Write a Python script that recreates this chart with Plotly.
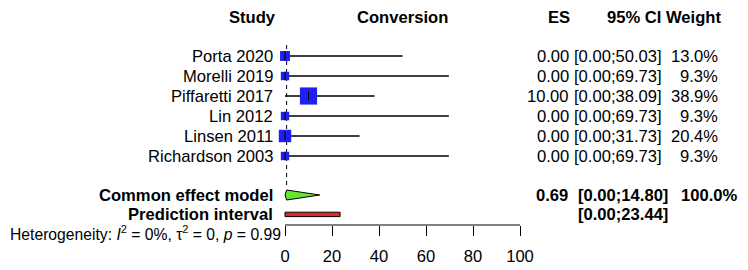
import plotly.graph_objects as go

# ---------------- data ----------------
studies = ["Porta 2020", "Morelli 2019", "Piffaretti 2017", "Lin 2012", "Linsen 2011", "Richardson 2003"]
es = [0.0, 0.0, 10.0, 0.0, 0.0, 0.0]
ci_low = [0.0, 0.0, 0.0, 0.0, 0.0, 0.0]
ci_high = [50.03, 69.73, 38.09, 69.73, 31.73, 69.73]
weights = [13.0, 9.3, 38.9, 9.3, 20.4, 9.3]

common_es = 0.69
common_low = 0.00
common_high = 14.80
common_weight = 100.0
pred_low = 0.00
pred_high = 23.44
het_I2 = 0
het_tau2 = 0
het_p = 0.99

tick_vals = [0, 20, 40, 60, 80, 100]

# ---------------- layout constants ----------------
W, H = 748, 270
FONT = "Liberation Sans, Arial, sans-serif"
FS = 16.6
PX0, PXPER = 285.0, 2.35          # pixel of x=0 and px per unit
ROW0, ROWPX = 36.0, 20.0          # pixel y = ROW0 + ROWPX*row
AXIS_PX = 225.0

xr = [(0 - PX0) / PXPER, (W - PX0) / PXPER]
yr = [(H - ROW0) / ROWPX, (0 - ROW0) / ROWPX]

def px(x):
    return x / W

def py(y):
    return 1 - y / H

rows = list(range(1, len(studies) + 1))
row_common = 7.95
row_pred = 8.92

fig = go.Figure()

# dashed line at common effect estimate
fig.add_trace(go.Scatter(x=[common_es, common_es], y=[0.45, 7.55], mode="lines",
                         line=dict(color="black", width=1, dash="4px,4px"),
                         hoverinfo="skip", showlegend=False))

# CI lines
cx, cy = [], []
for lo, hi, r in zip(ci_low, ci_high, rows):
    cx += [lo, hi, None]
    cy += [r, r, None]
fig.add_trace(go.Scatter(x=cx, y=cy, mode="lines", line=dict(color="black", width=1.3),
                         hoverinfo="skip", showlegend=False))

# squares
fig.add_trace(go.Scatter(x=es, y=rows, mode="markers",
                         marker=dict(symbol="square", color="#1F1FF5", opacity=1,
                                     size=[2.75 * w ** 0.5 for w in weights],
                                     line=dict(width=0)),
                         opacity=1, hoverinfo="skip", showlegend=False))

# estimate ticks
fig.add_trace(go.Scatter(x=es, y=rows, mode="markers",
                         marker=dict(symbol="line-ns", size=6, opacity=1,
                                     line=dict(color="black", width=1.1)),
                         hoverinfo="skip", showlegend=False))

# diamond
h = 0.25
fig.add_trace(go.Scatter(x=[common_low, common_es, common_high, common_es, common_low],
                         y=[row_common, row_common - h, row_common, row_common + h, row_common],
                         mode="lines", fill="toself", fillcolor="#66E633",
                         line=dict(color="black", width=1),
                         hoverinfo="skip", showlegend=False))

# prediction interval
hb = 0.11
fig.add_trace(go.Scatter(x=[pred_low, pred_high, pred_high, pred_low, pred_low],
                         y=[row_pred - hb, row_pred - hb, row_pred + hb, row_pred + hb, row_pred - hb],
                         mode="lines", fill="toself", fillcolor="#E8262A",
                         line=dict(color="black", width=1),
                         hoverinfo="skip", showlegend=False))

ann = []

def add(text, x, y, xanchor="right", bold=False, yref="y", size=FS):
    if bold:
        text = "<b>" + text + "</b>"
    ann.append(dict(text=text, x=px(x), xref="paper", y=y, yref=yref,
                    xanchor=xanchor, yanchor="middle", showarrow=False,
                    borderpad=0, borderwidth=0,
                    font=dict(family=FONT, size=size, color="black")))

# headers
hy = py(17)
add("Study", 276, hy, bold=True, yref="paper")
add("Conversion", (PX0 + PX0 + 100 * PXPER) / 2, hy, xanchor="center", bold=True, yref="paper")
add("ES", 570, hy, bold=True, yref="paper")
add("95% CI", 661, hy, bold=True, yref="paper")
add("Weight", 666, hy, xanchor="left", bold=True, yref="paper")

for s, e, lo, hi, w, r in zip(studies, es, ci_low, ci_high, weights, rows):
    add(s, 273, r)
    add(f"{e:.2f}", 569, r)
    add(f"[{lo:.2f};{hi:.2f}]", 662, r)
    add(f"{w:.1f}%", 718, r)

add("Common effect model", 273, row_common, bold=True)
add(f"{common_es:.2f}", 568, row_common, bold=True)
add(f"[{common_low:.2f};{common_high:.2f}]", 578, row_common, xanchor="left", bold=True)
add(f"{common_weight:.1f}%", 681, row_common, xanchor="left", bold=True)

add("Prediction interval", 273, row_pred, bold=True)
add(f"[{pred_low:.2f};{pred_high:.2f}]", 578, row_pred, xanchor="left", bold=True)

add(f"Heterogeneity: <i>I</i><sup>2</sup> = {het_I2}%, τ<sup>2</sup> = {het_tau2}, <i>p</i> = {het_p:.2f}",
    10, py(233), xanchor="left", yref="paper", size=15.7)

# axis line
shapes = [dict(type="line", xref="x", yref="paper", x0=tick_vals[0], x1=tick_vals[-1],
               y0=py(AXIS_PX), y1=py(AXIS_PX), line=dict(color="black", width=1))]

fig.update_layout(
    width=W, height=H, margin=dict(l=0, r=0, t=0, b=0),
    paper_bgcolor="white", plot_bgcolor="white",
    annotations=ann, shapes=shapes,
    xaxis=dict(range=xr, domain=[0, 1], anchor="free", position=py(AXIS_PX),
               tickvals=tick_vals, ticks="outside", ticklen=10, tickwidth=1,
               tickcolor="black", showline=False, showgrid=False, zeroline=False,
               tickfont=dict(family=FONT, size=FS, color="black"),
               ticklabelstandoff=6, fixedrange=True),
    yaxis=dict(range=yr, domain=[0, 1], visible=False, showgrid=False,
               zeroline=False, fixedrange=True),
    showlegend=False,
)

fig.write_html("out.html")
